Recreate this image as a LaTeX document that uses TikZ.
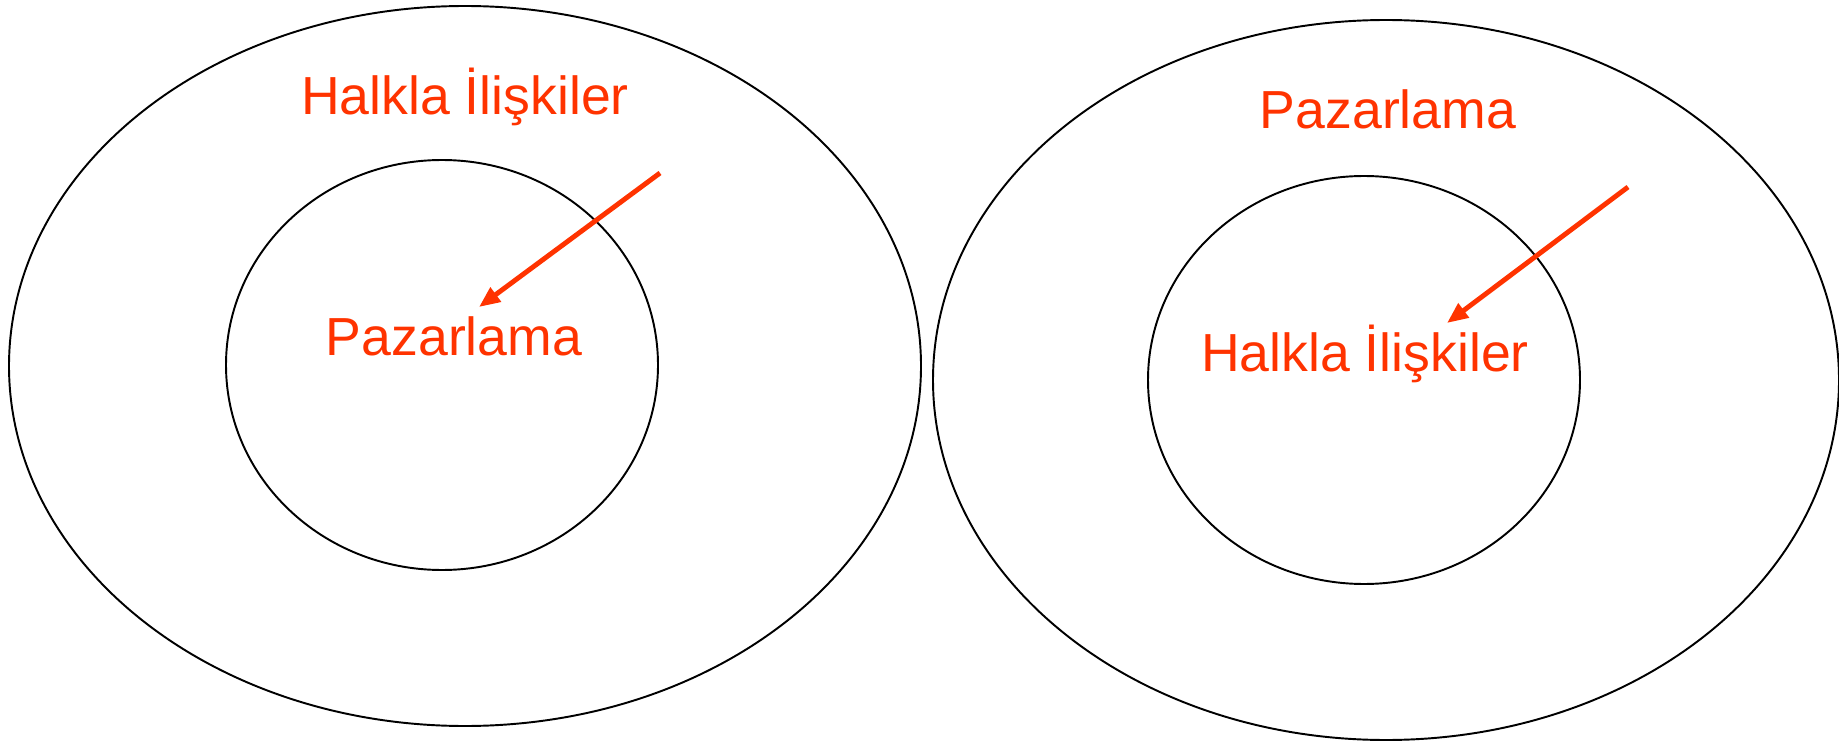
\documentclass[tikz,border=0pt]{standalone}
\usepackage{fontspec}
\setmainfont{Liberation Sans}
\usepackage{xcolor}
\usetikzlibrary{arrows.meta}
\definecolor{labelred}{RGB}{255, 51, 0}

\begin{document}
\begin{tikzpicture}[
    x=0.02cm, y=-0.02cm,
    font=\fontsize{30.5pt}{35pt}\selectfont,
    ring/.style={black, line width=1.1pt},
    label text/.style={labelred, anchor=base},
    pointer/.style={labelred, line width=2.8pt,
        -{Triangle[length=0.42cm, width=0.34cm]}}
]
    \useasboundingbox (0, 0) rectangle (1839, 743);

    % Coordinates
    \coordinate (left_c)   at (465, 366);
    \coordinate (left_in)  at (442, 365);
    \coordinate (right_c)  at (1386, 380);
    \coordinate (right_in) at (1364, 380);

    \coordinate (left_from)  at (660, 173);
    \coordinate (left_to)    at (479, 307);
    \coordinate (right_from) at (1628, 187);
    \coordinate (right_to)   at (1447, 323);

    % Rings
    \draw[ring] (left_c)   ellipse [x radius=456, y radius=360];
    \draw[ring] (left_in)  ellipse [x radius=216, y radius=205];
    \draw[ring] (right_c)  ellipse [x radius=453, y radius=360];
    \draw[ring] (right_in) ellipse [x radius=216, y radius=204];

    % Labels
    \node[label text] (pr_out)  at (465, 115)  {Halkla İlişkiler};
    \node[label text] (mk_in)   at (454, 355)  {Pazarlama};
    \node[label text] (mk_out)  at (1388, 129) {Pazarlama};
    \node[label text] (pr_in)   at (1365, 371) {Halkla İlişkiler};

    % Arrows
    \draw[pointer] (left_from) -- (left_to);
    \draw[pointer] (right_from) -- (right_to);

\end{tikzpicture}
\end{document}
